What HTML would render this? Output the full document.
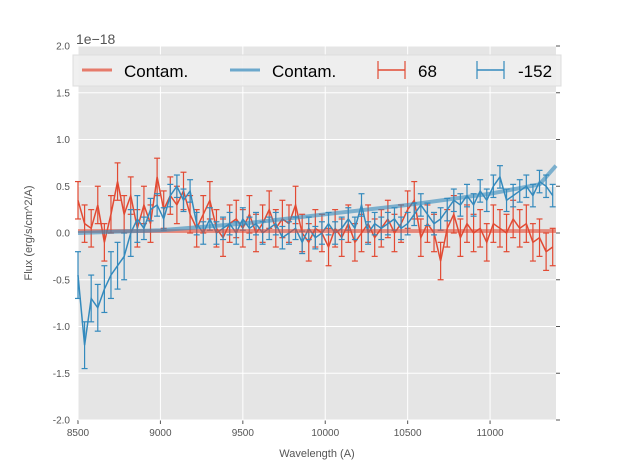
<!DOCTYPE html>
<html><head><meta charset="utf-8"><style>
body{margin:0;background:#fff;font-family:"Liberation Sans",sans-serif}
</style></head><body>
<svg id="chart" width="617" height="467" xmlns="http://www.w3.org/2000/svg"></svg>
<script>
const startWave = 8500;
const stepWave = 40;
const red68 = [.35,.1,.05,.3,-.1,.2,.55,.2,.4,.05,.3,.1,.6,.25,.4,.3,.45,.2,.05,.2,.35,.05,-.05,.1,.15,.05,.2,.0,.1,.25,.05,.15,.1,.3,.0,-.1,.05,.0,-.15,.05,-.05,.1,-.1,.0,.1,-.05,.05,.15,.0,.1,.25,.35,-.05,.1,.0,-.3,.05,.2,-.05,.1,.0,.05,-.1,.1,.05,0,.15,.05,.1,-.1,-.05,-.2,-.15];
const blue152 = [-.45,-1.2,-.7,-.8,-.6,-.45,-.35,-.25,.0,.15,.05,.25,.3,.15,.4,.5,.35,.45,.1,.0,.15,.0,.05,.1,.0,.15,.05,.1,.0,.05,.1,-.05,.0,.05,-.1,.05,-.05,.0,.1,.0,.05,.15,.05,.3,.0,.1,.05,.1,.15,.05,.1,.2,.3,.2,.1,.15,.25,.35,.3,.4,.3,.45,.35,.5,.6,.35,.4,.45,.5,.4,.55,.5,.4];
const redErr = 0.2;
const blueErrEarly = 0.25;
const blueErr = 0.12;
const contamWave = [8500,9000,9500,10000,10500,11000,11300,11400];
const contamRed = [0.02,0.02,0.02,0.02,0.02,0.02,0.02,0.02];
const contamBlue = [0.0,0.03,0.1,0.2,0.3,0.42,0.52,0.72];
const xTicks = [8500,9000,9500,10000,10500,11000];
const yTicks = [-2.0,-1.5,-1.0,-0.5,0.0,0.5,1.0,1.5,2.0];

const L=78,R=556,T=46,B=420;
const xs=w=>L+(w-8500)/(11400-8500)*(R-L);
const ys=v=>T+(2-v)/4*(B-T);
const svg=document.getElementById('chart');
const NS='http://www.w3.org/2000/svg';
function mk(tag,at,parent){const e=document.createElementNS(NS,tag);for(const k in at)e.setAttribute(k,at[k]);(parent||svg).appendChild(e);return e;}

const bg=mk('rect',{x:L,y:T,width:R-L,height:B-T,fill:'#e5e5e5'});


xTicks.forEach(t=>{
  const g=mk('line',{x1:xs(t),x2:xs(t),y1:T,y2:B,stroke:'#fff','stroke-width':1});
  
  
  mk('line',{x1:xs(t),x2:xs(t),y1:B,y2:B+4,stroke:'#555'});
  const tx=mk('text',{x:xs(t),y:B+16,'text-anchor':'middle','font-size':10,fill:'#555'});
  tx.textContent=t;
  
  
});
yTicks.forEach(t=>{
  const g=mk('line',{x1:L,x2:R,y1:ys(t),y2:ys(t),stroke:'#fff','stroke-width':1});
  
  
  mk('line',{x1:R,x2:R+4,y1:ys(t),y2:ys(t),stroke:'#555'});
  const tx=mk('text',{x:L-8,y:ys(t)+3.5,'text-anchor':'end','font-size':10,fill:'#555'});
  tx.textContent=t.toFixed(1);
  
  
});
function series(vals,color,errFn,name){
  const g=mk('g',{});
  
  
  let pts=[];
  vals.forEach((v,i)=>{
    const w=startWave+i*stepWave,x=xs(w),e=errFn(i);
    mk('line',{x1:x,x2:x,y1:ys(v+e),y2:ys(v-e),stroke:color,'stroke-width':1.2},g);
    mk('line',{x1:x-3,x2:x+3,y1:ys(v+e),y2:ys(v+e),stroke:color,'stroke-width':1.2},g);
    mk('line',{x1:x-3,x2:x+3,y1:ys(v-e),y2:ys(v-e),stroke:color,'stroke-width':1.2},g);
    pts.push(x+','+ys(v));
  });
  mk('polyline',{points:pts.join(' '),fill:'none',stroke:color,'stroke-width':1.5},g);
}
series(red68,'#e24a33',()=>redErr,'series-68');
series(blue152,'#348abd',i=>i<10?blueErrEarly:blueErr,'series-minus-152');
function contam(vals,color,name){
  const p=mk('polyline',{points:contamWave.map((w,i)=>xs(w)+','+ys(vals[i])).join(' '),fill:'none',stroke:color,'stroke-width':4,'stroke-opacity':0.6});
  
  
}
contam(contamRed,'#e24a33','contam-red-line');
contam(contamBlue,'#348abd','contam-blue-line');

// legend
const lg=mk('g',{});


mk('rect',{x:73,y:55,width:488,height:31,fill:'#eeeeee','fill-opacity':0.9,stroke:'#ddd'},lg);
mk('line',{x1:82,x2:112,y1:70,y2:70,stroke:'#e24a33','stroke-width':3,'stroke-opacity':0.7},lg);
mk('line',{x1:230,x2:260,y1:70,y2:70,stroke:'#348abd','stroke-width':3,'stroke-opacity':0.7},lg);
[[378,'#e24a33'],[477,'#348abd']].forEach(([x,c])=>{
  mk('line',{x1:x,x2:x+27,y1:70,y2:70,stroke:c,'stroke-width':1.5},lg);
  mk('line',{x1:x,x2:x,y1:61,y2:79,stroke:c,'stroke-width':1.2},lg);
  mk('line',{x1:x+27,x2:x+27,y1:61,y2:79,stroke:c,'stroke-width':1.2},lg);
});
[[124,'Contam.'],[272,'Contam.'],[418,'68'],[518,'-152']].forEach(([x,t])=>{
  const e=mk('text',{x:x,y:77,'font-size':17,fill:'#000'},lg);e.textContent=t;
  
  
});
const ex=mk('text',{x:76,y:44,'font-size':14,fill:'#555'});ex.textContent='1e\u221218';


const xl=mk('text',{x:317,y:457,'text-anchor':'middle','font-size':11,fill:'#555'});xl.textContent='Wavelength (A)';


const yl=mk('text',{x:0,y:0,'text-anchor':'middle','font-size':11,fill:'#555',transform:'translate(32,233) rotate(-90)'});yl.textContent='Flux (erg/s/cm^2/A)';


</script>
</body></html>
